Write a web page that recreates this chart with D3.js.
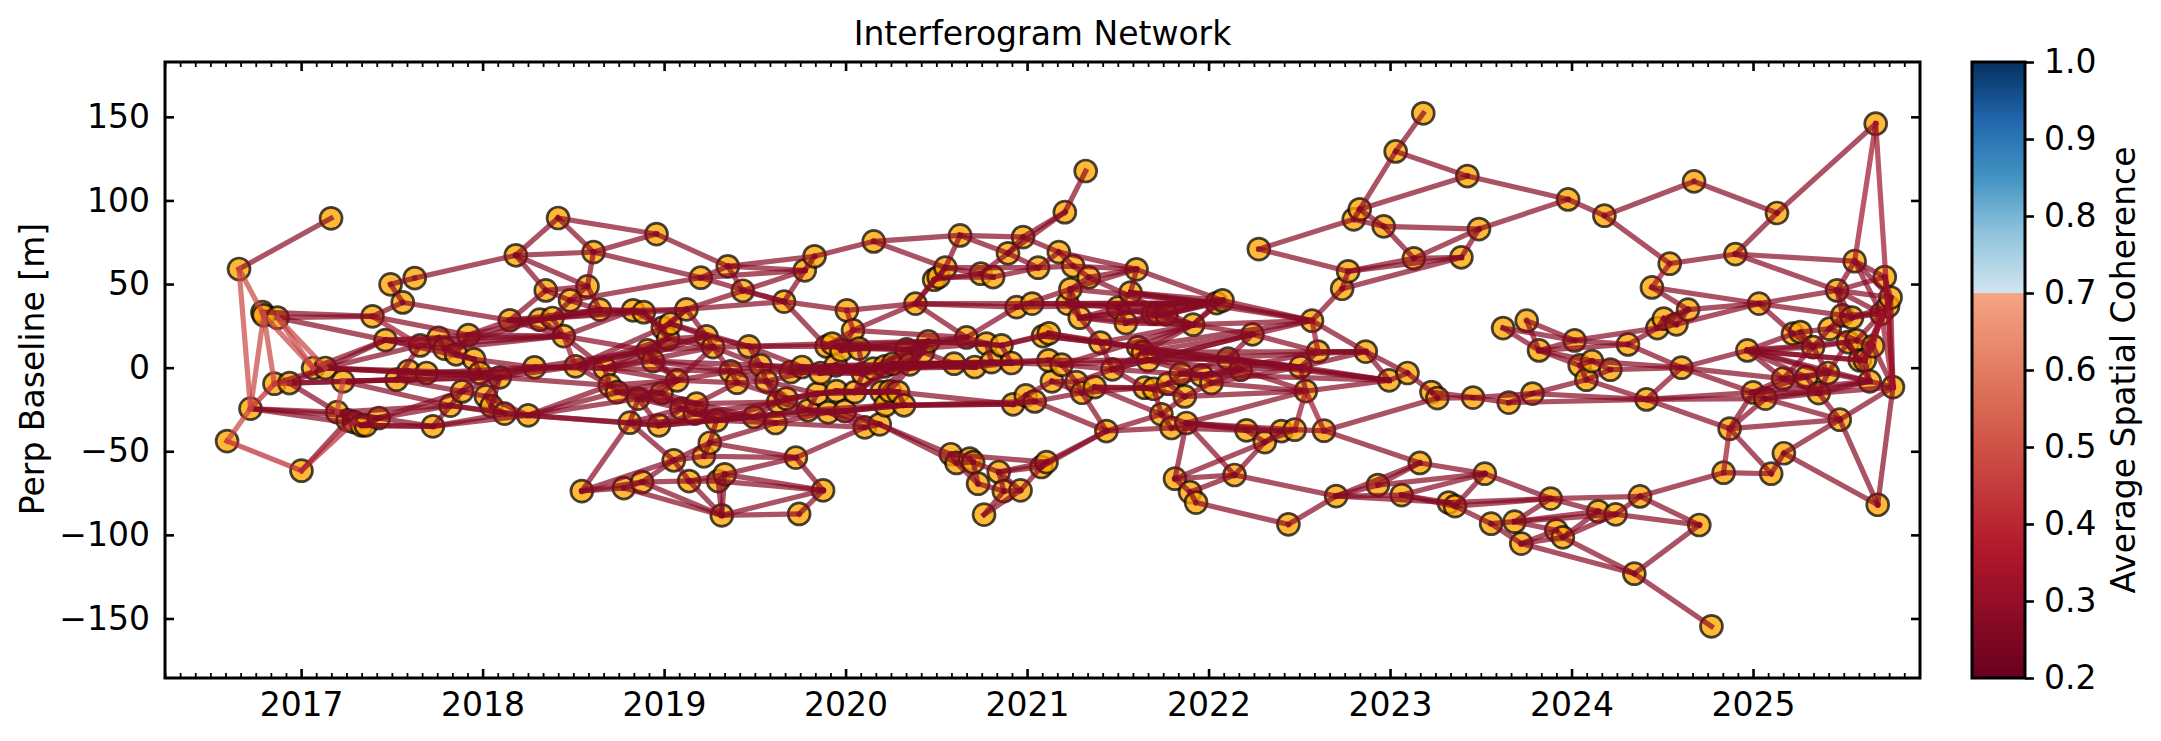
<!DOCTYPE html>
<html><head><meta charset="utf-8">
<script src="https://cdn.jsdelivr.net/npm/d3@7"></script>
<style>html,body{margin:0;padding:0;background:#fff}svg{display:block}text{font-family:"DejaVu Sans";fill:#000}</style>
</head><body><div id="c"></div>
<script>
// Acquisition dates (decimal year) and perpendicular baselines [m]. Ids below are 1-based.
const years=[2016.592,2016.658,2016.721,2016.787,2016.794,2016.853,2016.870,2016.936,2017.002,2017.066,2017.134,2017.165,2017.198,2017.231,2017.257,2017.292,2017.333,2017.356,2017.393,2017.428,
2017.465,2017.493,2017.526,2017.560,2017.592,2017.626,2017.656,2017.691,2017.726,2017.757,2017.790,2017.823,2017.854,2017.887,2017.922,2017.953,2017.985,2018.018,2018.049,2018.095,
2018.121,2018.150,2018.183,2018.251,2018.286,2018.315,2018.348,2018.385,2018.416,2018.447,2018.482,2018.512,2018.547,2018.578,2018.611,2018.646,2018.673,2018.701,2018.741,2018.778,
2018.811,2018.829,2018.857,2018.879,2018.888,2018.909,2018.939,2018.958,2018.972,2018.986,2018.993,2019.022,2019.035,2019.053,2019.072,2019.096,2019.123,2019.138,2019.169,2019.179,
2019.202,2019.219,2019.234,2019.252,2019.270,2019.289,2019.298,2019.318,2019.334,2019.351,2019.367,2019.402,2019.434,2019.467,2019.496,2019.531,2019.564,2019.614,2019.628,2019.661,
2019.674,2019.698,2019.726,2019.744,2019.760,2019.775,2019.793,2019.829,2019.845,2019.862,2019.876,2019.895,2019.904,2019.926,2019.946,2019.950,2019.977,2019.996,2020.007,2020.041,
2020.051,2020.074,2020.096,2020.106,2020.152,2020.155,2020.188,2020.198,2020.216,2020.220,2020.244,2020.262,2020.289,2020.322,2020.336,2020.354,2020.385,2020.427,2020.455,2020.488,
2020.513,2020.550,2020.580,2020.598,2020.611,2020.631,2020.666,2020.684,2020.703,2020.712,2020.730,2020.745,2020.763,2020.776,2020.804,2020.813,2020.844,2020.859,2020.872,2020.895,
2020.914,2020.923,2020.942,2020.964,2020.978,2020.993,2021.028,2021.042,2021.061,2021.079,2021.088,2021.107,2021.120,2021.137,2021.118,2021.175,2021.190,2021.208,2021.223,2021.239,
2021.254,2021.272,2021.290,2021.303,2021.323,2021.340,2021.373,2021.404,2021.437,2021.470,2021.501,2021.544,2021.570,2021.603,2021.612,2021.639,2021.648,2021.667,2021.694,2021.698,
2021.720,2021.740,2021.768,2021.777,2021.796,2021.815,2021.847,2021.869,2021.878,2021.898,2021.915,2021.931,2021.961,2022.016,2022.044,2022.077,2022.107,2022.143,2022.177,2022.209,
2022.242,2022.277,2022.310,2022.402,2022.440,2022.475,2022.506,2022.536,2022.570,2022.603,2022.636,2022.703,2022.736,2022.769,2022.800,2022.833,2022.866,2022.933,2022.965,2022.995,
2023.031,2023.064,2023.096,2023.131,2023.164,2023.183,2023.228,2023.261,2023.323,2023.358,2023.393,2023.426,2023.457,2023.490,2023.522,2023.557,2023.623,2023.654,2023.686,2023.723,
2023.753,2023.785,2023.821,2023.885,2023.916,2023.952,2023.981,2024.017,2024.045,2024.082,2024.113,2024.147,2024.181,2024.214,2024.243,2024.311,2024.346,2024.377,2024.413,2024.443,
2024.473,2024.508,2024.541,2024.578,2024.606,2024.642,2024.675,2024.704,2024.771,2024.838,2024.871,2024.903,2024.969,2025.000,2025.033,2025.068,2025.100,2025.132,2025.170,2025.165,
2025.220,2025.261,2025.294,2025.331,2025.362,2025.413,2025.422,2025.463,2025.478,2025.492,2025.523,2025.545,2025.560,2025.570,2025.588,2025.616,2025.643,2025.661,2025.676,2025.687,
2025.707,2025.726,2025.744,2025.758,2025.771];
const baselines=[-43.9,59.0,-24.5,33.2,31.3,-9.6,29.9,-9.2,-61.6,-0.2,-0.2,89.3,-26.6,-8.2,-31.5,-32.5,-34.5,-34.5,30.7,-30.1,
16.5,49.8,-7.2,39.0,-2.0,53.6,13.3,-3.2,-35.1,17.9,11.4,-22.7,8.0,-14.2,19.5,5.0,-3.2,-17.2,-23.0,-5.8,
-27.5,28.3,67.2,-28.5,0.2,28.7,46.2,29.7,89.5,18.9,40.2,0.8,-73.8,48.6,69.1,34.7,-0.4,-10.6,-14.6,-72.0,
-32.9,34.3,-18.5,-68.4,33.2,10.3,3.9,79.9,-34.5,-15.2,23.9,17.3,26.3,-55.4,-7.6,-24.5,34.9,-67.8,-27.5,-21.5,
53.8,-53.0,18.7,-44.9,12.3,-31.5,-67.8,-88.3,-63.8,60.6,-2.2,-9.0,46.0,12.7,-29.5,1.4,-8.2,-33.1,-20.6,39.5,
-18.5,-2.6,-53.8,-87.5,0.4,58.2,-25.5,66.6,-15.5,-3.2,-73.4,12.7,-26.7,14.4,1.4,-14.0,10.3,-26.0,34.3,22.3,
-14.6,11.4,-3.6,-35.7,-0.6,75.5,-33.9,-14.6,0.8,-22.5,-14.0,2.4,-14.6,-22.5,10.9,2.0,38.3,9.3,15.7,52.6,
54.2,59.8,-51.8,2.4,-57.0,79.1,18.1,-54.4,-56.5,0.4,-69.4,56.2,-87.9,14.4,3.3,54.2,-62.4,13.3,-73.8,68.4,
2.8,-21.9,36.2,-73.4,78.1,-16.6,38.3,-20.2,59.8,-59.4,18.9,-56.5,20.5,-8.2,4.4,69.1,1.8,93.0,38.3,47.0,
60.8,-8.6,29.9,-15.0,117.6,54.0,-11.6,15.0,-37.9,-1.0,35.9,26.7,44.9,58.8,12.3,9.3,-12.0,4.4,32.3,-12.6,
32.6,-27.9,31.9,-9.6,-36.1,-66.4,-3.6,-17.2,-33.1,-74.4,25.7,-80.7,-4.6,-9.2,38.6,40.2,5.4,-64.2,-1.2,-37.5,
19.9,70.9,-44.5,-37.9,-93.7,-37.1,0.4,-14.0,28.1,9.6,-37.7,-76.8,47.2,57.6,88.7,94.7,9.6,-70.2,84.5,-7.6,
129.3,-76.2,-3.2,65.4,-57.0,152.1,-14.6,-18.2,-80.7,-82.8,66.0,114.6,-17.9,82.9,-63.4,-93.3,23.7,-20.9,-92.1,-105.2,
28.1,-15.5,10.3,-78.3,-97.3,-101.5,100.6,16.3,1.4,-7.2,3.9,-85.9,90.9,-1.2,-87.7,13.9,-123.2,-77.0,-19.0,48.0,
23.7,29.3,62.2,25.9,0.0,34.7,111.4,-94.1,-154.7,-62.8,-36.5,67.9,10.3,-14.8,38.3,-18.5,-63.4,92.5,-51.2,-6.6,
20.3,21.3,-5.6,12.3,-15.2,-3.2,23.3,46.2,-31.1,31.3,15.3,29.9,63.7,16.3,4.4,4.4,-8.2,12.9,145.9,-82.0,
32.3,54.2,36.7,41.9,-11.6];

const pairsCoh047=[[1,3],[2,3],[2,5],[3,5],[5,6],[7,10],[5,10],[7,11],[4,5],[14,13]];
const pairsCoh040=[[1,9],[3,6],[9,16],[6,8]];
const pairsCoh031=[[319,325],[313,319],[280,283],[290,291],[318,321],[316,321],[323,325],[321,325],[119,120],[112,120],[228,231],[226,228],[229,230],[19,27],[50,52]];
const pairsCoh027=[[298,319],[313,322],[2,12],[3,13],[3,18],[3,20],[6,11],[8,11],[4,19],[7,19],[7,21],[10,11],[11,21],[11,27],[11,28],[11,37],[8,14],[8,13],[14,23],[14,32],[9,15],[13,15],[13,16],[15,16],[16,17],[17,18],[18,20],[17,20],[13,20],[18,29],[20,29],[17,29],[20,32],[20,34],[29,41],[29,44],[29,32],
[19,24],[19,35],[21,27],[21,30],[22,26],[22,24],[26,43],[24,42],[27,30],[27,31],[27,23],[30,31],[31,33],[33,36],[30,35],[31,36],[36,37],[35,42],[35,33],[23,25],[25,28],[23,28],[28,37],[37,40],[40,45],[28,40],[32,34],[34,38],[38,39],[39,41],[41,44],[34,37],[38,40],[39,40],[44,58],[44,61],
[45,52],[40,52],[45,57],[42,46],[46,48],[42,47],[43,47],[43,49],[43,55],[43,54],[49,55],[55,54],[47,54],[47,51],[51,54],[54,56],[51,56],[48,50],[46,50],[48,56],[48,51],[49,68],[55,68],[50,57],[50,66],[52,57],[57,58],[52,58],[58,59],[59,63],[57,67],[53,60],[53,64],[53,61],[53,74],
[60,64],[60,88],[61,74],[61,69],[61,63],[63,69],[63,70],[56,62],[56,65],[62,65],[62,71],[65,71],[65,72],[66,67],[66,72],[67,75],[66,75],[68,90],[55,81],[51,81],[81,106],[90,106],[90,108],[93,106],[81,100],[77,93],[77,100],[106,108],[106,100],[108,126],[126,146],[126,142],[100,119],[77,71],[77,73],[62,77],[65,77],[73,71],[71,72],
[73,83],[83,85],[85,94],[73,94],[77,83],[72,83],[94,96],[94,105],[94,112],[94,114],[96,97],[96,102],[85,96],[85,91],[91,92],[91,96],[92,97],[75,91],[75,70],[70,80],[76,80],[76,79],[79,80],[70,76],[69,76],[69,79],[79,86],[80,86],[86,84],[84,82],[74,84],[74,82],[74,78],[64,74],[64,78],[64,88],[78,87],[78,88],[78,89],[87,89],[87,88],[89,88],[82,103],[84,103],[89,103],[89,111],[87,111],[88,111],[88,104],[103,111],[104,111],[103,124],[86,95],[86,98],[84,98],[95,98],[95,99],[99,101],[101,107],[97,99],[97,101],[95,107],[98,124],[107,113],[113,118],[107,109],[109,116],[102,110],[105,110],[102,105],[110,115],[115,123],[116,121],[121,128],[118,130],[118,127],[124,127],[113,124],[127,143],[127,145],[130,134],[128,131],[131,133],[133,134],[121,123],[121,131],
[119,137],[120,137],[120,117],[112,114],[114,117],[117,122],[112,122],[120,147],[125,123],[125,129],[129,132],[132,136],[136,138],[135,138],[138,139],[135,139],[122,135],[115,125],[125,132],[110,123],[105,115],[122,123],
[137,140],[137,147],[137,142],[140,141],[141,142],[142,146],[142,152],[141,156],[146,160],[146,165],[160,165],[160,169],[160,152],[152,156],[156,169],[142,169],[140,152],[137,163],[137,167],[147,163],[147,154],[154,158],[158,161],[139,147],[138,144],[144,150],[136,144],[150,155],[155,161],[154,155],[158,173],[161,175],[166,168],[162,166],[162,168],[134,162],[133,162],[145,149],[143,145],[143,148],[148,149],[145,151],[149,157],[149,151],[151,159],[157,159],[159,164],[153,159],[153,164],[164,170],[157,170],[157,172],[170,172],[143,172],[157,164],
[178,185],[165,178],[160,178],[176,181],[176,194],[165,176],[169,176],[169,181],[181,186],[181,194],[186,194],[186,211],[180,179],[180,183],[179,183],[167,179],[163,180],[180,194],[180,186],[179,191],[183,191],[183,192],[191,192],[191,193],[193,194],[193,215],[193,216],[194,216],[192,199],[199,201],[201,203],[203,215],[203,216],[195,196],[196,198],[198,190],[195,211],[188,195],[188,190],[188,183],[173,188],[171,188],[199,211],[215,216],[211,216],[211,215],[211,221],[211,229],[216,229],[215,229],[221,229],[221,217],[222,234],[222,235],[234,233],[233,229],[229,237],[221,230],[230,227],[227,228],[227,217],[198,217],[219,228],[219,227],[217,219],[198,219],[214,228],[230,237],[227,237],[237,243],[237,240],[227,240],[228,240],[243,240],[243,247],[247,248],[248,253],[247,253],[231,248],[231,245],[232,245],[232,238],[218,232],[218,206],[218,210],[206,210],[210,212],[212,225],[225,232],[209,206],[209,218],[223,206],[223,218],[209,220],[209,224],[209,226],[205,220],[205,209],[205,189],[189,202],[202,205],[202,208],[202,209],[220,223],[220,224],[224,226],[226,231],[223,224],[223,226],[209,228],[213,219],[213,214],[207,213],[207,204],[204,208],[214,208],[207,217],[204,200],[200,197],[197,187],[187,184],[184,182],[182,190],[190,197],[184,189],[187,202],[197,208],[200,202],[189,172],[170,189],[174,182],[177,182],[175,177],[161,177],[177,190],[174,184],[166,174],[168,184],[168,189],[155,175],[158,171],[171,173],
[195,229],[190,221],[196,221],[198,221],[190,213],[198,213],[204,219],[213,230],[214,219],[208,228],[214,227],
[235,236],[235,239],[236,241],[236,239],[236,252],[241,246],[241,252],[239,244],[239,254],[244,254],[244,251],[234,244],[234,251],[233,251],[251,254],[252,267],[254,267],[267,273],[273,287],[287,298],[273,283],[283,292],[292,298],[292,313],[292,308],[280,286],[280,295],[286,295],[286,281],[282,286],[284,286],[281,282],[281,284],[282,284],[284,295],[295,308],[295,310],[295,301],[308,322],[308,324],[308,313],[322,324],[308,321],
[257,263],[261,268],[257,268],[261,263],[263,268],[263,276],[268,276],[268,281],[276,281],[276,285],[263,269],[263,271],[269,271],[269,270],[271,274],[270,274],[274,285],[271,285],[270,279],[262,270],[262,279],[258,262],[253,258],[253,262],[258,279],[279,285],[279,294],[279,296],[279,291],[285,293],[285,300],[293,300],[293,303],[293,301],[293,311],[293,315],[293,316],[293,306],[291,294],[291,296],[291,309],[294,296],[296,305],[294,305],[294,317],[305,325],[296,309],[305,309],[309,325],[309,320],[291,297],[290,297],[297,299],[299,309],[299,320],[277,288],[278,288],[277,289],
[238,255],[242,255],[245,255],[242,249],[242,250],[232,242],[232,249],[249,250],[255,250],[250,264],[249,264],[250,256],[256,260],[255,264],[256,259],[259,264],[259,272],[259,275],[259,265],[265,266],[260,266],[260,277],[266,277],[266,272],[266,275],[264,272],[264,278],[272,275],[275,278],[275,288],[290,278],[260,265],[238,245],
[301,302],[302,304],[301,304],[302,307],[304,307],[307,310],[310,312],[307,312],[304,306],[303,306],[300,303],[303,305],[306,305],[304,311],[311,314],[311,317],[314,318],[311,315],[315,316],[316,318],[316,317],[317,325],[318,325],[320,325],[310,321],[312,321],[312,323],[321,323],[323,324],[314,321],[315,323],[307,314],[306,311],[305,317],[306,317],[313,321],[313,324],[308,312],[308,310],[322,323],[324,325],[316,324],[300,304],[300,305],[300,306],[294,300],
[96,123],[97,115],[99,109],[99,107],[101,109],[107,118],[98,113],[100,112],[102,115],[86,99],[91,97],[75,85],[76,86],[70,75],[67,91],[69,86],[75,92],[80,92],[83,85],[46,56],[48,62],[50,62],[48,65],[52,66],[57,75],[58,75],[58,70],[59,70],[59,75],[44,59],[44,63],[63,76],[42,56],[42,50],[35,50],[21,36],[27,50],[31,50],[36,45],[37,45],[37,52],[40,58],[93,100],[90,93],[81,90],[118,134],[116,128],[109,121],
[114,135],[112,135],[112,139],[114,139],[117,139],[135,154],[139,154],[135,147],[139,158],[96,105],[105,125],[110,125],[125,136],[129,136],[132,144],[136,150],[144,161],[150,161],[132,150],[123,132],[80,99],[79,99],[86,107],[130,162],[134,168],[113,134],[107,130],[95,113],[113,127],[79,95],[76,95],[69,95],[80,95],[101,116],[109,128],[116,133],[121,133],
[187,197],[187,200],[184,197],[197,204],[200,204],[163,215],[167,215],[179,215],[180,215],[183,216],[191,216],[183,215],[192,216],[193,229],[195,240],[196,240],[198,237],[196,237],[207,240],[195,227],[196,227],[177,211],[190,211],[188,211],[175,198],[177,198],[190,198],[171,195],[173,195],[183,211],[191,211],[192,211],[285,294],[293,304],[293,317],[294,303],[296,317],
[13,32],[44,32],[8,23],[11,40],[14,40],[23,40],[28,45],[42,48],[10,21],[35,46],[21,50],[31,46],[34,40],[34,23],[32,41],[38,44],[52,83],[57,83],[45,66],[52,71],[52,72],[57,72],[57,85],[59,80],[63,80],[61,86],[44,69],[69,86],[61,76],[72,85],[66,85],[63,75],[57,91],[67,96],[83,94],[97,109],[91,102],[92,101],
[121,139],[128,139],[123,139],[131,138],[121,138],[123,135],[105,144],[110,144],[115,144],[123,144],[125,144],[129,150],[132,155],[136,155],[136,161],[125,150],[129,144]];

const xMajor=[2017,2018,2019,2020,2021,2022,2023,2024,2025];
const yMajor=[-150,-100,-50,0,50,100,150];
const cbTicks=[0.2,0.3,0.4,0.5,0.6,0.7,0.8,0.9,1.0];
const cmapLowDomain=[0.2,0.367,0.533,0.7], cmapLowColors=["#67001f","#b2182b","#d6604d","#f4a582"];
const cmapHighDomain=[0.7,0.775,0.85,0.925,1.0], cmapHighColors=["#d1e5f0","#92c5de","#4393c3","#2166ac","#053061"];

const W=2161,H=741,L=165,R=1920,T=62,B=678,fs=33;
const x=d3.scaleLinear().domain([2016.25,2025.92]).range([L,R]);
const y=d3.scaleLinear().domain([182.8,-185.6]).range([T,B]);
const low=d3.scaleLinear().domain(cmapLowDomain).range(cmapLowColors);
const high=d3.scaleLinear().domain(cmapHighDomain).range(cmapHighColors);
const cmap=v=>v<0.7?low(v):high(v);

const svg=d3.select("#c").append("svg").attr("width",W).attr("height",H);
const nodes=years.map((t,i)=>({t,b:baselines[i]}));

svg.append("g").selectAll("circle").data(nodes).join("circle")
 .attr("cx",d=>x(d.t)).attr("cy",d=>y(d.b)).attr("r",11)
 .attr("fill","orange").attr("fill-opacity",.78).attr("stroke","#000").attr("stroke-opacity",.72).attr("stroke-width",2.7);

const seen=new Set(),links=[];
[[pairsCoh027,.27],[pairsCoh031,.32],[pairsCoh040,.40],[pairsCoh047,.47]].forEach(([ps,c])=>ps.forEach(([a,b])=>{
 const k=Math.min(a,b)+"-"+Math.max(a,b);
 if(!seen.has(k)){seen.add(k);links.push({a:nodes[a-1],b:nodes[b-1],c});}
}));
svg.append("g").selectAll("line").data(links).join("line")
 .attr("x1",d=>x(d.a.t)).attr("y1",d=>y(d.a.b)).attr("x2",d=>x(d.b.t)).attr("y2",d=>y(d.b.b))
 .attr("stroke",d=>cmap(d.c)).attr("stroke-width",5.2).attr("stroke-opacity",.7).attr("stroke-linecap","square");

function styleAxis(g){
 g.select(".domain").remove();
 g.selectAll(".tick line").attr("stroke","#000").attr("stroke-width",2.6);
 g.selectAll(".tick text").style("font-size",fs+"px").style("font-family","DejaVu Sans");
}
const monthly=d3.range(2016.25,2025.92,1/12).map(v=>Math.round(v*12)/12).filter(v=>v>=2016.25&&v<=2025.92&&!Number.isInteger(v));
function minorX(yPos,dir){
 svg.append("g").attr("transform",`translate(0,${yPos})`).call(d3.axisBottom(x).tickValues(monthly).tickSize(dir*5).tickFormat(""))
 .call(g=>{g.select(".domain").remove();g.selectAll("line").attr("stroke-width",1.8).attr("stroke","#000");});
}
minorX(B,-1);minorX(T,1);
svg.append("g").attr("transform",`translate(0,${B})`).call(d3.axisBottom(x).tickValues(xMajor).tickSize(-9).tickPadding(15).tickFormat(d3.format("d"))).call(styleAxis);
svg.append("g").attr("transform",`translate(0,${T})`).call(d3.axisTop(x).tickValues(xMajor).tickSize(-9).tickFormat("")).call(styleAxis);
const fmtY=d=>d<0?"\u2212"+Math.abs(d):""+d;
svg.append("g").attr("transform",`translate(${L},0)`).call(d3.axisLeft(y).tickValues(yMajor).tickSize(-9).tickPadding(15).tickFormat(fmtY)).call(styleAxis);
svg.append("g").attr("transform",`translate(${R},0)`).call(d3.axisRight(y).tickValues(yMajor).tickSize(-9).tickFormat("")).call(styleAxis);
svg.append("rect").attr("x",L).attr("y",T).attr("width",R-L).attr("height",B-T).attr("fill","none").attr("stroke","#000").attr("stroke-width",3);

svg.append("text").attr("x",(L+R)/2).attr("y",45).attr("text-anchor","middle").style("font-size",fs+"px").text("Interferogram Network");
svg.append("text").attr("transform","translate(44,369) rotate(-90)").attr("text-anchor","middle").style("font-size",fs+"px").text("Perp Baseline [m]");

// colour bar
const CL=1972,CR=2025;
const cy=d3.scaleLinear().domain([0.2,1.0]).range([B,T]);
const grad=svg.append("defs").append("linearGradient").attr("id","cb").attr("x1",0).attr("x2",0).attr("y1",1).attr("y2",0);
const off=v=>((v-0.2)/0.8*100)+"%";
cmapLowDomain.forEach((v,i)=>grad.append("stop").attr("offset",off(v)).attr("stop-color",cmapLowColors[i]));
cmapHighDomain.forEach((v,i)=>grad.append("stop").attr("offset",off(v)).attr("stop-color",cmapHighColors[i]));
svg.append("rect").attr("x",CL).attr("y",T).attr("width",CR-CL).attr("height",B-T).attr("fill","url(#cb)").attr("stroke","#000").attr("stroke-width",3);
svg.append("g").attr("transform",`translate(${CR},0)`).call(d3.axisRight(cy).tickValues(cbTicks).tickSize(9).tickPadding(10).tickFormat(d3.format(".1f"))).call(styleAxis);
svg.append("text").attr("transform","translate(2135,370) rotate(-90)").attr("text-anchor","middle").style("font-size",fs+"px").text("Average Spatial Coherence");
</script></body></html>
